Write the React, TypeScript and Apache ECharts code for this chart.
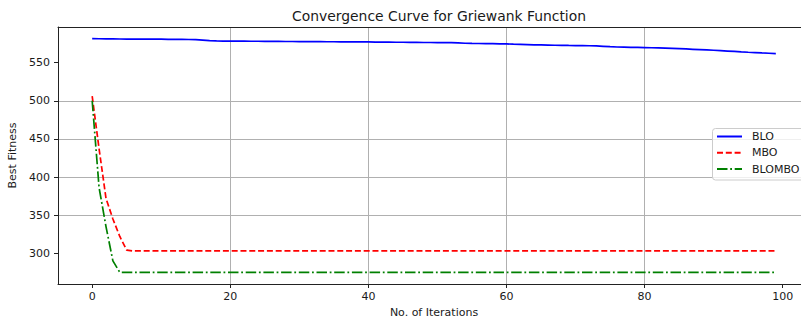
import React, { useEffect, useRef } from "react";
import * as echarts from "echarts";

// Best fitness per iteration (100 iterations, 0..99)
const bloFitness = [
  581.5, 581.4, 581.3, 581.2, 581.1, 581.0, 581.0, 580.9, 580.9, 580.8,
  580.8, 580.7, 580.6, 580.5, 580.4, 580.2, 579.6, 579.0, 578.5, 578.4,
  578.3, 578.3, 578.2, 578.1, 578.1, 578.0, 577.9, 577.9, 577.8, 577.8,
  577.7, 577.7, 577.6, 577.6, 577.5, 577.5, 577.4, 577.4, 577.3, 577.3,
  577.2, 577.1, 577.0, 576.9, 576.8, 576.8, 576.7, 576.6, 576.5, 576.5,
  576.4, 576.3, 576.3, 575.9, 575.5, 575.3, 575.2, 575.0, 574.9, 574.7,
  574.6, 574.3, 574.1, 573.8, 573.5, 573.3, 573.1, 572.9, 572.8, 572.6,
  572.5, 572.4, 572.2, 572.0, 571.5, 571.0, 570.6, 570.4, 570.2, 570.0,
  569.8, 569.6, 569.4, 569.1, 568.8, 568.4, 568.0, 567.6, 567.2, 566.8,
  566.3, 565.8, 565.3, 564.8, 564.2, 563.7, 563.3, 562.8, 562.4, 562.0,
];

const mboFitness = [
  506, 437, 372, 345, 322, 304, 303, 303, 303, 303,
  303, 303, 303, 303, 303, 303, 303, 303, 303, 303,
  303, 303, 303, 303, 303, 303, 303, 303, 303, 303,
  303, 303, 303, 303, 303, 303, 303, 303, 303, 303,
  303, 303, 303, 303, 303, 303, 303, 303, 303, 303,
  303, 303, 303, 303, 303, 303, 303, 303, 303, 303,
  303, 303, 303, 303, 303, 303, 303, 303, 303, 303,
  303, 303, 303, 303, 303, 303, 303, 303, 303, 303,
  303, 303, 303, 303, 303, 303, 303, 303, 303, 303,
  303, 303, 303, 303, 303, 303, 303, 303, 303, 303,
];

const blomboFitness = [
  500, 386, 335, 290, 275, 275, 275, 275, 275, 275,
  275, 275, 275, 275, 275, 275, 275, 275, 275, 275,
  275, 275, 275, 275, 275, 275, 275, 275, 275, 275,
  275, 275, 275, 275, 275, 275, 275, 275, 275, 275,
  275, 275, 275, 275, 275, 275, 275, 275, 275, 275,
  275, 275, 275, 275, 275, 275, 275, 275, 275, 275,
  275, 275, 275, 275, 275, 275, 275, 275, 275, 275,
  275, 275, 275, 275, 275, 275, 275, 275, 275, 275,
  275, 275, 275, 275, 275, 275, 275, 275, 275, 275,
  275, 275, 275, 275, 275, 275, 275, 275, 275, 275,
];

const seriesNames = ["BLO", "MBO", "BLOMBO"];
const xTicks = [0, 20, 40, 60, 80, 100];
const yTicks = [300, 350, 400, 450, 500, 550];

const FONT = "DejaVu Sans";
const TEXT = "#1a1a1a";
const SPINE = "#222";

const toPoints = (values: number[]) => values.map((v, i) => [i, v]);

export default function App() {
  const ref = useRef<HTMLDivElement>(null);

  useEffect(() => {
    if (!ref.current) return;
    const chart = echarts.init(ref.current, null, { renderer: "svg" });

    // 5% margins around the data range on both axes
    const n = bloFitness.length;
    const xPad = (n - 1) * 0.05;
    const all = [...bloFitness, ...mboFitness, ...blomboFitness];
    const yMinData = Math.min(...all);
    const yMaxData = Math.max(...all);
    const yPad = (yMaxData - yMinData) * 0.05;

    const xMin = -xPad;
    const xMax = n - 1 + xPad;
    const yMin = yMinData - yPad;
    const yMax = yMaxData + yPad;

    chart.setOption({
      animation: false,
      backgroundColor: "#ffffff",
      textStyle: { fontFamily: FONT },
      title: {
        text: "Convergence Curve for Griewank Function",
        left: 287,
        top: 4,
        textStyle: { fontFamily: FONT, fontSize: 13.9, fontWeight: "normal", color: TEXT },
      },
      grid: {
        left: 58,
        top: 27,
        width: 752,
        height: 257,
        containLabel: false,
        outerBoundsMode: "none",
      },
      legend: {
        orient: "vertical",
        left: 712.5,
        top: 128.5,
        data: seriesNames,
        itemWidth: 25,
        itemHeight: 12,
        itemGap: 5.3,
        padding: [2.5, 6, 5.4, 3.5],
        backgroundColor: "rgba(255,255,255,0.8)",
        borderColor: "#cccccc",
        borderWidth: 1,
        borderRadius: 3,
        itemStyle: { opacity: 0 },
        textStyle: { fontFamily: FONT, fontSize: 11, color: TEXT, padding: [0, 0, 0, 5] },
      },
      xAxis: [
        {
          type: "value",
          min: xMin,
          max: xMax,
          name: "No. of Iterations",
          nameLocation: "middle",
          nameGap: 21,
          nameTextStyle: { fontFamily: FONT, fontSize: 11, color: TEXT },
          axisLine: { show: true, onZero: false, lineStyle: { color: SPINE, width: 1 } },
          axisTick: { show: true, length: 4, lineStyle: { color: SPINE }, customValues: xTicks },
          axisLabel: {
            fontFamily: FONT,
            fontSize: 11,
            color: TEXT,
            margin: 7,
            customValues: xTicks,
            hideOverlap: false,
          },
          splitLine: {
            show: true,
            showMinLine: false,
            showMaxLine: false,
            lineStyle: { color: "#b0b0b0", width: 1 },
          },
        },
        {
          type: "value",
          position: "top",
          min: xMin,
          max: xMax,
          axisLine: { show: true, onZero: false, lineStyle: { color: SPINE, width: 1 } },
          axisTick: { show: false },
          axisLabel: { show: false },
          splitLine: { show: false },
        },
      ],
      yAxis: {
        type: "value",
        min: yMin,
        max: yMax,
        name: "Best Fitness",
        nameLocation: "middle",
        nameGap: 32,
        nameTextStyle: { fontFamily: FONT, fontSize: 11, color: TEXT },
        axisLine: { show: true, onZero: false, lineStyle: { color: SPINE, width: 1 } },
        axisTick: { show: true, length: 4, lineStyle: { color: SPINE }, customValues: yTicks },
        axisLabel: { fontFamily: FONT, fontSize: 11, color: TEXT, margin: 8, customValues: yTicks },
        splitLine: {
          show: true,
          showMinLine: false,
          showMaxLine: false,
          lineStyle: { color: "#b0b0b0", width: 1 },
        },
      },
      series: [
        {
          name: "BLO",
          type: "line",
          xAxisIndex: 0,
          data: toPoints(bloFitness),
          symbol: "none",
          lineStyle: { color: "#0000ff", width: 1.7, type: "solid" },
          itemStyle: { color: "#0000ff" },
        },
        {
          name: "MBO",
          type: "line",
          xAxisIndex: 0,
          data: toPoints(mboFitness),
          symbol: "none",
          lineStyle: { color: "#ff0000", width: 1.7, type: [6, 2.8] },
          itemStyle: { color: "#ff0000" },
        },
        {
          name: "BLOMBO",
          type: "line",
          xAxisIndex: 0,
          data: toPoints(blomboFitness),
          symbol: "none",
          lineStyle: { color: "#008000", width: 1.7, type: [10.5, 2.7, 1.8, 2.7] },
          itemStyle: { color: "#008000" },
        },
      ],
    });

    return () => chart.dispose();
  }, []);

  return (
    <div
      ref={ref}
      style={{ position: "fixed", left: 0, top: 0, width: 801, height: 324, background: "#fff" }}
    />
  );
}
